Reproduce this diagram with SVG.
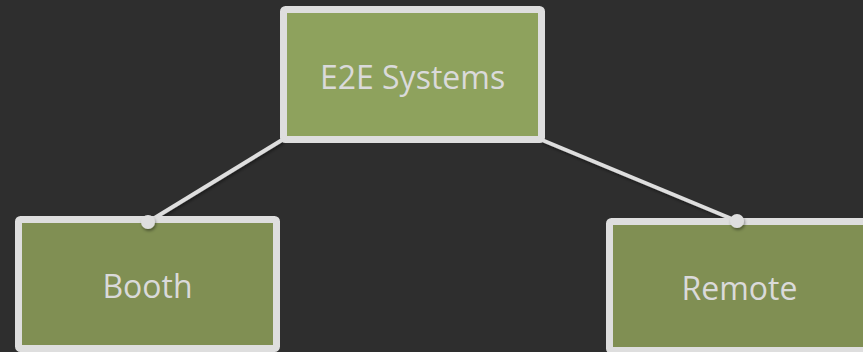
<svg xmlns="http://www.w3.org/2000/svg" width="863" height="352" viewBox="0 0 863 352">
  <defs>
    <style>
      .box { stroke: #dedede; stroke-width: 7; }
      .top { fill: #8ea25d; }
      .sub { fill: #808f53; }
      .lbl { font-family: "Open Sans", "DejaVu Sans", sans-serif; font-size: 32px; fill: #dadada; text-anchor: middle; }
      .conn { stroke: #dedede; stroke-width: 4; fill: none; }
      .dot { fill: #dedede; }
    </style>
    <filter id="sh" x="-20%" y="-20%" width="140%" height="160%">
      <feDropShadow dx="1" dy="2" stdDeviation="1.5" flood-color="#000" flood-opacity="0.4"/>
    </filter>
  </defs>
  <rect width="863" height="352" fill="#2e2e2e"/>
  <g id="connectors" filter="url(#sh)">
    <line class="conn" x1="282" y1="140" x2="148" y2="222"/>
    <line class="conn" x1="542" y1="140" x2="737" y2="221"/>
  </g>
  <g id="node-e2e">
    <rect class="box top" x="283.5" y="9.5" width="258" height="130" rx="2"/>
    <text class="lbl" x="412.5" y="89">E2E Systems</text>
  </g>
  <g id="node-booth">
    <rect class="box sub" x="18.5" y="219.5" width="258" height="129" rx="2"/>
    <text class="lbl" x="147.5" y="298">Booth</text>
  </g>
  <g id="node-remote">
    <rect class="box sub" x="609.5" y="221.5" width="262" height="129" rx="2"/>
    <text class="lbl" x="739.5" y="300">Remote</text>
  </g>
  <g id="dots" filter="url(#sh)">
    <circle class="dot" cx="148" cy="222" r="7"/>
    <circle class="dot" cx="737" cy="221" r="7"/>
  </g>
</svg>
